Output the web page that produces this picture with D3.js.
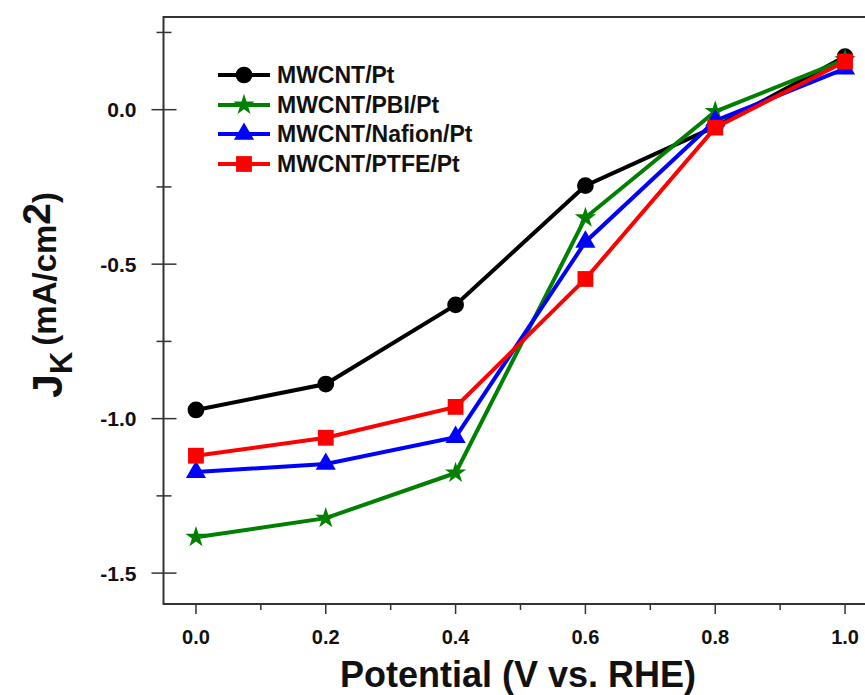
<!DOCTYPE html>
<html>
<head>
<meta charset="utf-8">
<script src="https://cdn.jsdelivr.net/npm/d3@7"></script>
<style>
  body { margin: 0; background: #fff; }
  svg text { font-family: "Liberation Sans", Arial, sans-serif; font-weight: bold; fill: #111; }
</style>
</head>
<body>
<div id="chart"></div>
<script>
// data
var potential = [0.0, 0.2, 0.4, 0.6, 0.8, 1.0];
var mwcntPt       = [-0.972, -0.888, -0.632, -0.246, -0.055, 0.172];
var mwcntPbiPt    = [-1.384, -1.322, -1.176, -0.350, -0.006, 0.162];
var mwcntNafionPt = [-1.173, -1.147, -1.060, -0.428, -0.036, 0.133];
var mwcntPtfePt   = [-1.120, -1.062, -0.962, -0.548, -0.058, 0.156];
var seriesNames = ["MWCNT/Pt", "MWCNT/PBI/Pt", "MWCNT/Nafion/Pt", "MWCNT/PTFE/Pt"];
var xTicks = [0.0, 0.2, 0.4, 0.6, 0.8, 1.0];
var yTicks = [0.0, -0.5, -1.0, -1.5];

var series = [
  {name: seriesNames[0], values: mwcntPt,       color: "#000000", symbol: d3.symbolCircle,   size: 220},
  {name: seriesNames[1], values: mwcntPbiPt,    color: "#008000", symbol: d3.symbolStar,     size: 140},
  {name: seriesNames[2], values: mwcntNafionPt, color: "#0000ff", symbol: d3.symbolTriangle, size: 175},
  {name: seriesNames[3], values: mwcntPtfePt,   color: "#ff0000", symbol: d3.symbolSquare,   size: 250}
];

var W = 865, H = 695;

var svg = d3.select("#chart")
  .append("svg")
    .attr("width", W)
    .attr("height", H);

// scales
var x = d3.scaleLinear()
  .domain([-0.05, 1.05])
  .range([163.5, 877.5]);
var y = d3.scaleLinear()
  .domain([-1.6, 0.3])
  .range([604, 17]);

var xL = x(-0.05), xR = x(1.05), yT = y(0.3), yB = y(-1.6);

// frame (left, top, bottom)
svg.append("path")
  .attr("d", "M" + xR + "," + yT + "H" + xL + "V" + yB + "H" + xR)
  .attr("fill", "none")
  .attr("stroke", "#333")
  .attr("stroke-width", 2);

// x axis ticks, outward
var xMinor = [0.1, 0.3, 0.5, 0.7, 0.9];
var xAxis = svg.append("g").attr("transform", "translate(0," + yB + ")");
xAxis.selectAll(".maj").data(xTicks).enter().append("line")
  .attr("x1", function (d) { return x(d); }).attr("x2", function (d) { return x(d); })
  .attr("y1", 0).attr("y2", 10)
  .attr("stroke", "#333").attr("stroke-width", 1.5);
xAxis.selectAll(".min").data(xMinor).enter().append("line")
  .attr("x1", function (d) { return x(d); }).attr("x2", function (d) { return x(d); })
  .attr("y1", 0).attr("y2", 6)
  .attr("stroke", "#333").attr("stroke-width", 1.5);
xAxis.selectAll("text").data(xTicks).enter().append("text")
  .attr("x", function (d) { return x(d); })
  .attr("y", 40)
  .attr("text-anchor", "middle")
  .style("font-size", "20px")
  .text(function (d) { return d.toFixed(1); });

// y axis ticks, crossing the line
var yMinor = [0.25, -0.25, -0.75, -1.25];
var yAxis = svg.append("g").attr("transform", "translate(" + xL + ",0)");
yAxis.selectAll(".maj").data(yTicks).enter().append("line")
  .attr("y1", function (d) { return y(d); }).attr("y2", function (d) { return y(d); })
  .attr("x1", -12).attr("x2", 13)
  .attr("stroke", "#333").attr("stroke-width", 1.5);
yAxis.selectAll(".min").data(yMinor).enter().append("line")
  .attr("y1", function (d) { return y(d); }).attr("y2", function (d) { return y(d); })
  .attr("x1", -7).attr("x2", 8)
  .attr("stroke", "#333").attr("stroke-width", 1.5);
yAxis.selectAll("text").data(yTicks).enter().append("text")
  .attr("x", -27)
  .attr("y", function (d) { return y(d); })
  .attr("dy", "0.36em")
  .attr("text-anchor", "end")
  .style("font-size", "21px")
  .text(function (d) { return d.toFixed(1); });

// axis titles
svg.append("text")
  .attr("x", 518)
  .attr("y", 687)
  .attr("text-anchor", "middle")
  .style("font-size", "36px")
  .text("Potential (V vs. RHE)");

var yt = svg.append("text")
  .attr("transform", "translate(62,295) rotate(-90)")
  .attr("text-anchor", "middle");
yt.append("tspan").style("font-size", "43px").text("J");
yt.append("tspan").style("font-size", "31px").attr("dy", 10).text("K");
yt.append("tspan").style("font-size", "33px").attr("dy", -16).attr("dx", 6).text("(mA/cm");
yt.append("tspan").style("font-size", "39px").attr("dy", -6).text("2");
yt.append("tspan").style("font-size", "33px").attr("dy", 6).text(")");

// lines and markers
var line = d3.line()
  .x(function (d, i) { return x(potential[i]); })
  .y(function (d) { return y(d); });

series.forEach(function (s) {
  var g = svg.append("g");
  g.append("path")
    .datum(s.values)
    .attr("d", line)
    .attr("fill", "none")
    .attr("stroke", s.color)
    .attr("stroke-width", 4);
  g.selectAll("path.m")
    .data(s.values)
    .enter()
    .append("path")
      .attr("class", "m")
      .attr("transform", function (d, i) { return "translate(" + x(potential[i]) + "," + y(d) + ")"; })
      .attr("d", d3.symbol().type(s.symbol).size(s.size))
      .attr("fill", s.color);
});

// legend
var legend = svg.append("g");
var rowY = [75, 105, 134, 164];
series.forEach(function (s, i) {
  var r = legend.append("g").attr("transform", "translate(0," + rowY[i] + ")");
  r.append("line")
    .attr("x1", 218).attr("x2", 270)
    .attr("y1", 0).attr("y2", 0)
    .attr("stroke", s.color).attr("stroke-width", 4);
  r.append("path")
    .attr("transform", "translate(244,0)")
    .attr("d", d3.symbol().type(s.symbol).size(s.size))
    .attr("fill", s.color);
  r.append("text")
    .attr("x", 277)
    .attr("y", 0)
    .attr("dy", "0.36em")
    .style("font-size", "23px")
    .text(s.name);
});
</script>
</body>
</html>
